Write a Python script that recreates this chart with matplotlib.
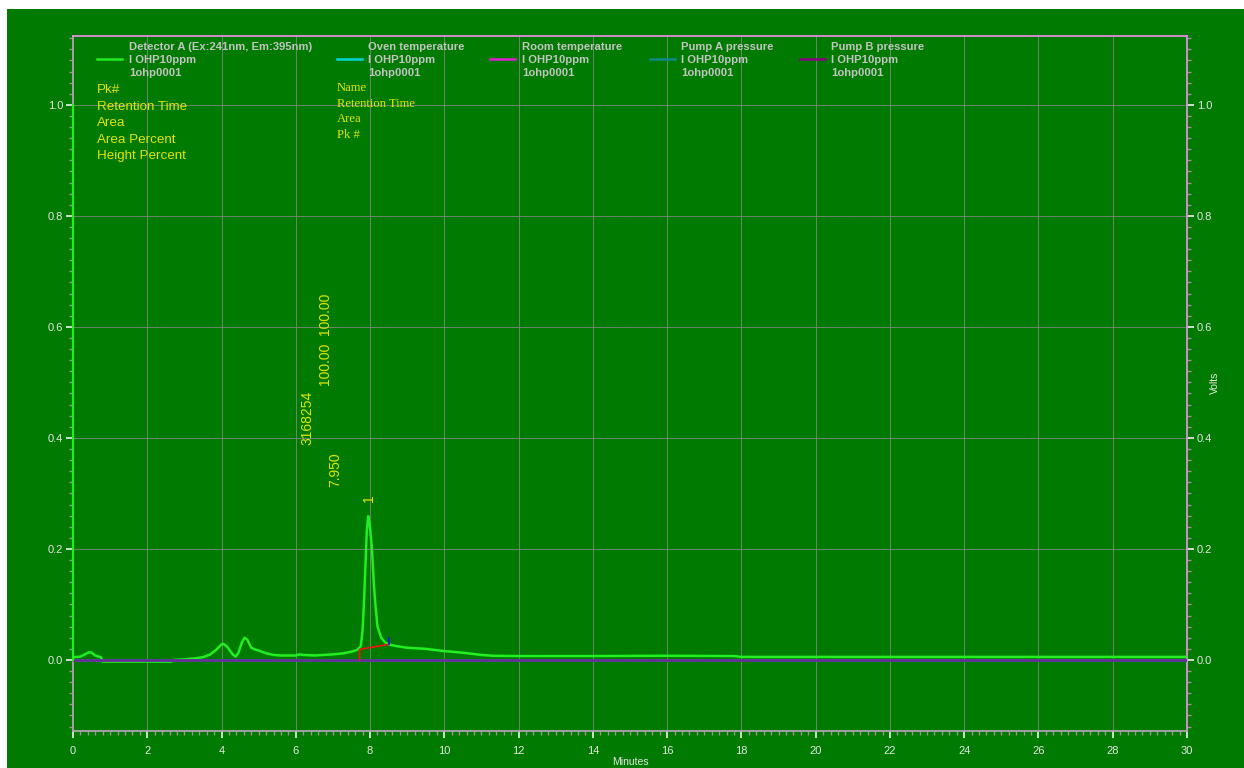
import matplotlib
matplotlib.use("Agg")
import matplotlib.pyplot as plt
from matplotlib.lines import Line2D
from matplotlib.patches import Rectangle
from matplotlib.ticker import MultipleLocator, FormatStrFormatter

# Detector A trace (minutes, volts)
time_min = [0.0, 0.2, 0.35, 0.43, 0.5, 0.6, 0.75, 0.8, 2.65, 2.7, 3.0, 3.3, 3.5, 3.7,
            3.85, 4.0, 4.05, 4.15, 4.3, 4.38, 4.45, 4.55, 4.62, 4.7, 4.8, 4.9, 5.0,
            5.2, 5.4, 5.6, 6.0, 6.1, 6.2, 6.5, 7.0, 7.3, 7.5, 7.65, 7.75, 7.8, 7.84,
            7.87, 7.91, 7.95, 7.99, 8.05, 8.1, 8.13, 8.2, 8.3, 8.4, 8.5, 8.7, 9.0,
            9.5, 10.0, 10.5, 11.0, 11.3, 12.0, 14.0, 16.0, 17.8, 18.0, 30.0]
detector_v = [0.005, 0.006, 0.011, 0.014, 0.013, 0.008, 0.005, -0.003, -0.003, 0.0,
              0.001, 0.003, 0.005, 0.010, 0.018, 0.028, 0.029, 0.024, 0.010, 0.006,
              0.012, 0.032, 0.040, 0.036, 0.022, 0.019, 0.017, 0.012, 0.009, 0.008,
              0.008, 0.010, 0.009, 0.008, 0.010, 0.012, 0.015, 0.018, 0.025, 0.054,
              0.11, 0.16, 0.23, 0.259, 0.245, 0.20, 0.14, 0.11, 0.06, 0.04, 0.032,
              0.028, 0.025, 0.022, 0.020, 0.016, 0.013, 0.009, 0.0075, 0.007, 0.007,
              0.0075, 0.007, 0.0055, 0.0055]

# Auxiliary channels (flat at zero over the run)
aux_time = [0.0, 30.0]
oven_temp = [0.0, 0.0]
room_temp = [0.0, 0.0]
pump_a = [0.0, 0.0]
pump_b = [0.0, 0.0]

# Integration of peak 1
baseline_t = [7.72, 7.72, 8.5]
baseline_v = [0.0, 0.019, 0.028]
peak_end_t = 8.5
peak_end_v = [0.028, 0.040]

peak_num = "1"
peak_rt = 7.950
peak_area = 3168254
peak_area_pct = 100.00
peak_height_pct = 100.00

legend_titles = ["Detector A (Ex:241nm, Em:395nm)", "Oven temperature",
                 "Room temperature", "Pump A pressure", "Pump B pressure"]
legend_colors = ["#22ee22", "#00d8d8", "#e020d0", "#108888", "#880088"]
sample_name = "I OHP10ppm"
file_name = "1ohp0001"
left_fields = ["Pk#", "Retention Time", "Area", "Area Percent", "Height Percent"]
right_fields = ["Name", "Retention Time", "Area", "Pk #"]

BG = "#007a00"
YELLOW = "#e4e400"
GREY_TXT = "#c4c4c4"
TICK_TXT = "#e6e6e6"
W, H = 1244, 768

fig = plt.figure(figsize=(W / 100, H / 100), dpi=100, facecolor="white")
fig.patches.append(Rectangle((7 / W, 0), 1 - 7 / W, 1 - 9 / H, transform=fig.transFigure,
                             facecolor=BG, edgecolor="none", zorder=-10))

ax = fig.add_axes([73 / W, 1 - 731 / H, (1187 - 73) / W, (731 - 36) / H])
ax.set_facecolor(BG)
ax.set_xlim(0, 30)
ax.set_ylim(-0.128, 1.124)

ax.xaxis.set_major_locator(MultipleLocator(2))
ax.xaxis.set_minor_locator(MultipleLocator(0.2))
ax.yaxis.set_major_locator(MultipleLocator(0.2))
ax.yaxis.set_minor_locator(MultipleLocator(0.02))
ax.yaxis.set_major_formatter(FormatStrFormatter("%.1f"))
ax.xaxis.set_major_formatter(FormatStrFormatter("%d"))
ax.tick_params(axis="both", which="major", direction="out", length=5, width=1.2,
               color="#f0f0f0", labelcolor=TICK_TXT, labelsize=8,
               labelfontfamily="Liberation Sans")
ax.tick_params(axis="both", which="minor", direction="out", length=3, width=1,
               color="#9a929a")
ax.tick_params(axis="y", which="both", left=True, right=True, labelleft=True,
               labelright=True, pad=2)
ax.tick_params(axis="x", pad=6)

ax.grid(True, which="major", color="#7e887e", linewidth=0.6)
ax.set_axisbelow(True)

for side in ("top", "right"):
    ax.spines[side].set_color("#e090e0")
    ax.spines[side].set_linewidth(1.3)
for side in ("bottom", "left"):
    ax.spines[side].set_color("#b0a2b0")
    ax.spines[side].set_linewidth(1.3)
# detector range marker along the left axis
ax.plot([0, 0], [0, 1.0], color="#22ee22", lw=1.6, clip_on=False, zorder=5)

# traces
ax.plot(time_min, detector_v, color=legend_colors[0], lw=1.8, zorder=3)
ax.plot(aux_time, oven_temp, color=legend_colors[1], lw=1.8, zorder=4)
ax.plot(aux_time, room_temp, color=legend_colors[2], lw=1.8, zorder=4)
ax.plot(aux_time, pump_a, color=legend_colors[3], lw=1.8, zorder=4)
ax.plot(aux_time, pump_b, color="#6a2a96", lw=1.8, zorder=4)

# integration baseline and peak end marker
ax.plot(baseline_t, baseline_v, color="#ff1010", lw=1.2, zorder=5)
ax.plot([peak_end_t, peak_end_t], peak_end_v, color="#1010ff", lw=1.2, zorder=5)

# peak annotations
ann = dict(rotation=90, ha="center", va="bottom", color=YELLOW, fontsize=10,
           family="Liberation Sans")
ax.text(7.97, 0.285, peak_num, **ann)
ax.text(7.06, 0.312, f"{peak_rt:.3f}", **ann)
ax.text(6.30, 0.387, f"{peak_area}", **ann)
ax.text(6.79, 0.495, f"{peak_area_pct:.2f}", **ann)
ax.text(6.79, 0.586, f"{peak_height_pct:.2f}", **ann)

# legend header
line_x = [97, 337, 490, 650, 800]
text_x = [129, 368, 522, 681, 831]
for lx, tx, title, col in zip(line_x, text_x, legend_titles, legend_colors):
    y_line = 1 - 59 / H
    fig.add_artist(Line2D([lx / W, (lx + 25) / W], [y_line, y_line], color=col, lw=1.8))
    for k, s in enumerate([title, sample_name, file_name]):
        fig.text(tx / W, 1 - (47 + 13 * k) / H, s, color=GREY_TXT, fontsize=8.1,
                 fontweight="bold", family="Liberation Sans", va="center", ha="left")

for k, s in enumerate(left_fields):
    fig.text(97 / W, 1 - (90 + 16.6 * k) / H, s, color=YELLOW, fontsize=9.6,
             family="Liberation Sans", va="center", ha="left")
for k, s in enumerate(right_fields):
    fig.text(337 / W, 1 - (88 + 15.7 * k) / H, s, color=YELLOW, fontsize=9.1,
             family="Liberation Serif", va="center", ha="left")

fig.text(1215 / W, 1 - 383 / H, "Volts", rotation=90, color=TICK_TXT, fontsize=7.5,
         family="Liberation Sans", ha="center", va="center")
fig.text(630 / W, 1 - 762 / H, "Minutes", color=TICK_TXT, fontsize=7.5,
         family="Liberation Sans", ha="center", va="center")

fig.savefig("out.png", dpi=100, facecolor="white")
